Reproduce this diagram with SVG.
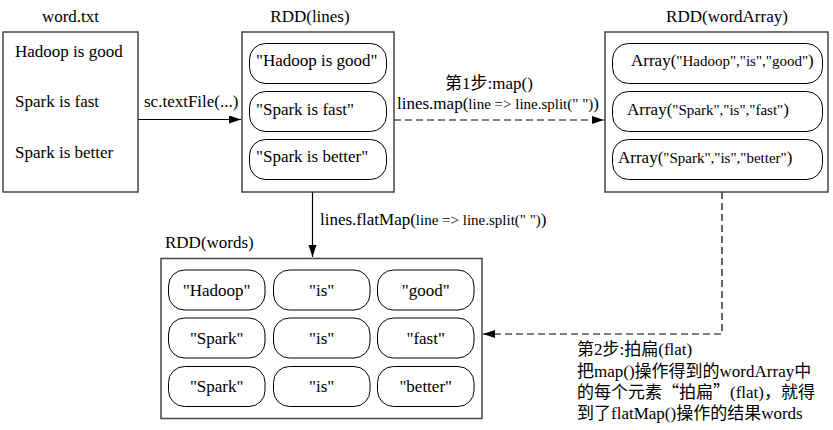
<svg xmlns="http://www.w3.org/2000/svg" width="833" height="430" viewBox="0 0 833 430">
<style>
text{font-family:"Liberation Serif","Noto Sans CJK SC",serif;font-size:17px;fill:#000}
.sm{font-size:15px}
.cjk{font-family:"Noto Sans CJK SC",sans-serif}
.outer{fill:#fff;stroke:#444;stroke-width:1.5}
.pill{fill:#fff;stroke:#000;stroke-width:1}
.mid{text-anchor:middle}
.solid{fill:none;stroke:#000;stroke-width:1.2}
.dash{fill:none;stroke:#000;stroke-width:1.2;stroke-dasharray:7 4}
</style>
<defs>
<marker id="arr" markerUnits="userSpaceOnUse" markerWidth="13" markerHeight="9" refX="12" refY="4" orient="auto">
<path d="M0,0 L12,4 L0,8 z" fill="#000"/>
</marker>
</defs>
<rect width="833" height="430" fill="#fff"/>

<g id="connectors">
<line class="solid" x1="138" y1="119.5" x2="241" y2="119.5" marker-end="url(#arr)"/>
<text x="144" y="107">sc.textFile(...)</text>
<line class="dash" x1="394" y1="120" x2="604" y2="120" marker-end="url(#arr)"/>
<text x="489" y="89" class="mid">第1步:map()</text>
<text x="397" y="109">lines.map(<tspan class="sm">line =&gt; line.split(" ")</tspan>)</text>
<line class="solid" x1="312.5" y1="192" x2="312.5" y2="257" marker-end="url(#arr)"/>
<text x="320" y="225">lines.flatMap(<tspan class="sm">line =&gt; line.split(" ")</tspan>)</text>
<polyline class="dash" points="722,192 722,334 483,334" marker-end="url(#arr)"/>
<text x="577" y="355">第2步:拍扁(flat)</text>
<text x="577" y="377">把map()操作得到的wordArray中</text>
<text x="577" y="398">的每个元素<tspan class="cjk">“</tspan>拍扁<tspan class="cjk">”</tspan>(flat)，就得</text>
<text x="577" y="419">到了flatMap()操作的结果words</text>
</g>

<g id="word-txt">
<text x="70.5" y="22" class="mid">word.txt</text>
<rect class="outer" x="3" y="32" width="135" height="160"/>
<text x="15" y="57">Hadoop is good</text>
<text x="15" y="107">Spark is fast</text>
<text x="15" y="158">Spark is better</text>
</g>

<g id="rdd-lines">
<text x="310" y="22" class="mid">RDD(lines)</text>
<rect class="outer" x="242" y="32" width="152" height="160"/>
<rect class="pill" x="249.5" y="43.5" width="137" height="40" rx="16"/>
<rect class="pill" x="249.5" y="91.5" width="137" height="40" rx="16"/>
<rect class="pill" x="249.5" y="139.5" width="137" height="40" rx="16"/>
<text x="256" y="66">"Hadoop is good"</text>
<text x="256" y="115">"Spark is fast"</text>
<text x="256" y="162">"Spark is better"</text>
</g>

<g id="rdd-wordarray">
<text x="727" y="22" class="mid">RDD(wordArray)</text>
<rect class="outer" x="605" y="32" width="223" height="160"/>
<rect class="pill" x="612.5" y="43.5" width="210" height="40" rx="16"/>
<rect class="pill" x="612.5" y="91.5" width="210" height="40" rx="16"/>
<rect class="pill" x="612.5" y="139.5" width="210" height="40" rx="16"/>
<text x="631" y="66">Array(<tspan class="sm">"Hadoop","is","good"</tspan>)</text>
<text x="627" y="115">Array(<tspan class="sm">"Spark","is","fast"</tspan>)</text>
<text x="618" y="163">Array(<tspan class="sm">"Spark","is","better"</tspan>)</text>
</g>

<g id="rdd-words">
<text x="165" y="248">RDD(words)</text>
<rect class="outer" x="161" y="258.5" width="321" height="160"/>
<rect class="pill" x="168.5" y="270" width="96.5" height="40" rx="16"/>
<rect class="pill" x="273.5" y="270" width="96.5" height="40" rx="16"/>
<rect class="pill" x="377.5" y="270" width="96.5" height="40" rx="16"/>
<rect class="pill" x="168.5" y="318" width="96.5" height="40" rx="16"/>
<rect class="pill" x="273.5" y="318" width="96.5" height="40" rx="16"/>
<rect class="pill" x="377.5" y="318" width="96.5" height="40" rx="16"/>
<rect class="pill" x="168.5" y="366.5" width="96.5" height="40" rx="16"/>
<rect class="pill" x="273.5" y="366.5" width="96.5" height="40" rx="16"/>
<rect class="pill" x="377.5" y="366.5" width="96.5" height="40" rx="16"/>
<text x="216.7" y="296" class="mid">"Hadoop"</text>
<text x="321.7" y="296" class="mid">"is"</text>
<text x="425.7" y="296" class="mid">"good"</text>
<text x="216.7" y="344" class="mid">"Spark"</text>
<text x="321.7" y="344" class="mid">"is"</text>
<text x="425.7" y="344" class="mid">"fast"</text>
<text x="216.7" y="392" class="mid">"Spark"</text>
<text x="321.7" y="392" class="mid">"is"</text>
<text x="425.7" y="392" class="mid">"better"</text>
</g>
</svg>
